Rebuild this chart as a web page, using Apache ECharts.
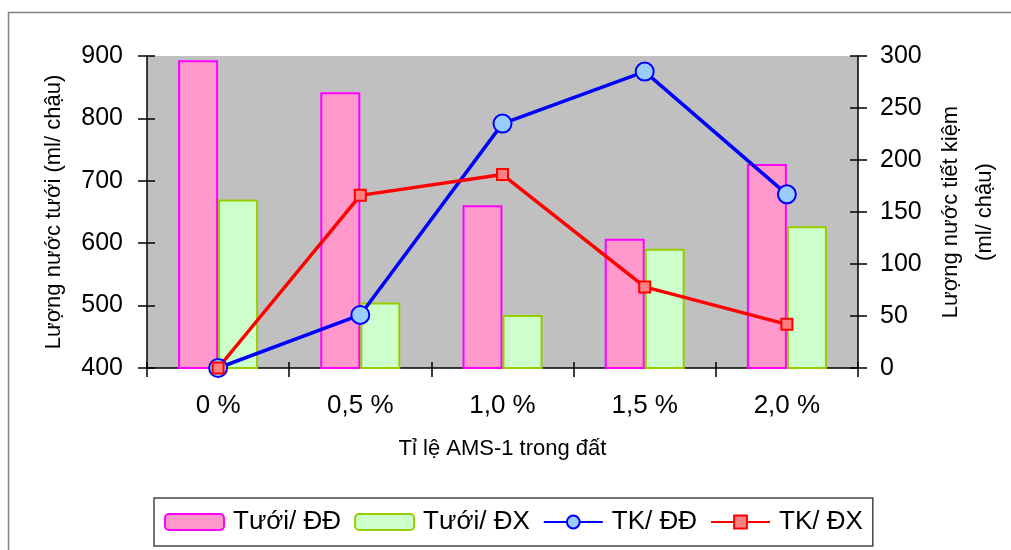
<!DOCTYPE html>
<html>
<head>
<meta charset="utf-8">
<script src="https://cdn.jsdelivr.net/npm/echarts@6/dist/echarts.min.js"></script>
<style>
html,body{margin:0;padding:0;background:#fff;overflow:hidden;width:1011px;height:550px;}
#chart{width:1011px;height:550px;}
</style>
</head>
<body>
<div id="chart"></div>
<script>
var categories = ['0 %', '0,5 %', '1,0 %', '1,5 %', '2,0 %'];
var tuoiDD = [893, 842, 661, 607, 727];
var tuoiDX = [670, 505, 485, 591, 627];
var tkDD = [0, 51, 235, 285, 167];
var tkDX = [0, 166, 186, 78, 42];
var leftTicks = {min: 400, max: 900, interval: 100};
var rightTicks = {min: 0, max: 300, interval: 50};

var FONT = 'Liberation Sans';
var chart = echarts.init(document.getElementById('chart'), null, {renderer: 'canvas', width: 1011, height: 550});
var gridBox = {left: 147, right: 153, top: 56, bottom: 182, containLabel: false, outerBoundsMode: 'none'};

var option = {
  animation: false,
  textStyle: {fontFamily: FONT, color: '#000'},
  graphic: [{
    type: 'rect', shape: {x: 8.5, y: 12.5, width: 1100, height: 700},
    style: {fill: 'none', stroke: '#808080', lineWidth: 1.5}, z: -10
  }],
  grid: [
    Object.assign({show: true, backgroundColor: '#C0C0C0', borderWidth: 0}, gridBox),
    Object.assign({show: false}, gridBox)
  ],
  legend: {
    left: 154, top: 498,
    padding: [11, 10, 11, 10],
    borderColor: '#444', borderWidth: 1.5,
    itemWidth: 59, itemHeight: 16, itemGap: 13,
    textStyle: {fontFamily: FONT, fontSize: 26, color: '#000', padding: [0, 0, 0, 4]},
    data: ['Tưới/ ĐĐ', 'Tưới/ ĐX', 'TK/ ĐĐ', 'TK/ ĐX']
  },
  xAxis: [{
    type: 'category', data: categories, gridIndex: 0,
    axisLine: {lineStyle: {color: '#000', width: 1.5}},
    axisTick: {show: true, inside: false, length: 9, lineStyle: {color: '#000', width: 1.5}},
    axisLabel: {fontFamily: FONT, fontSize: 26, color: '#000', margin: 25},
    name: 'Tỉ lệ AMS-1 trong đất', nameLocation: 'middle', nameGap: 70,
    nameTextStyle: {fontFamily: FONT, fontSize: 22, color: '#000'}
  }, {
    type: 'category', data: categories, gridIndex: 1,
    axisLine: {show: false},
    axisTick: {show: true, inside: true, length: 6, lineStyle: {color: '#000', width: 1.5}},
    axisLabel: {show: false}
  }],
  yAxis: [{
    type: 'value', gridIndex: 0, position: 'left',
    min: leftTicks.min, max: leftTicks.max, interval: leftTicks.interval,
    splitLine: {show: false},
    axisLine: {show: true, lineStyle: {color: '#000', width: 1.5}},
    axisTick: {show: true, length: 9, lineStyle: {color: '#000', width: 1.5}},
    axisLabel: {fontFamily: FONT, fontSize: 25, color: '#000', margin: 24},
    name: 'Lượng nước tưới (ml/ chậu)', nameLocation: 'middle', nameGap: 82,
    nameTextStyle: {fontFamily: FONT, fontSize: 22, color: '#000'}
  }, {
    type: 'value', gridIndex: 0, position: 'right',
    min: rightTicks.min, max: rightTicks.max, interval: rightTicks.interval,
    splitLine: {show: false},
    axisLine: {show: true, lineStyle: {color: '#000', width: 1.5}},
    axisTick: {show: true, length: 9, lineStyle: {color: '#000', width: 1.5}},
    axisLabel: {fontFamily: FONT, fontSize: 25, color: '#000', margin: 22},
    name: 'Lượng nước tiết kiệm\n(ml/ chậu)', nameLocation: 'middle', nameGap: 76,
    nameTextStyle: {fontFamily: FONT, fontSize: 22, color: '#000', lineHeight: 34}
  }, {
    type: 'value', gridIndex: 1, position: 'left',
    min: leftTicks.min, max: leftTicks.max, interval: leftTicks.interval,
    splitLine: {show: false}, axisLine: {show: false}, axisLabel: {show: false},
    axisTick: {show: true, inside: true, length: 8, lineStyle: {color: '#000', width: 1.5}}
  }, {
    type: 'value', gridIndex: 1, position: 'right',
    min: rightTicks.min, max: rightTicks.max, interval: rightTicks.interval,
    splitLine: {show: false}, axisLine: {show: false}, axisLabel: {show: false},
    axisTick: {show: true, inside: true, length: 8, lineStyle: {color: '#000', width: 1.5}}
  }],
  series: [{
    name: 'Tưới/ ĐĐ', type: 'bar', xAxisIndex: 0, yAxisIndex: 0,
    data: tuoiDD, barWidth: 40, barGap: '0%',
    itemStyle: {color: '#FF99CC', borderColor: '#FF00FF', borderWidth: 2}
  }, {
    name: 'Tưới/ ĐX', type: 'bar', xAxisIndex: 0, yAxisIndex: 0,
    data: tuoiDX, barWidth: 40, barGap: '0%',
    itemStyle: {color: '#CCFFCC', borderColor: '#99CC00', borderWidth: 2}
  }, {
    name: 'TK/ ĐĐ', type: 'line', xAxisIndex: 0, yAxisIndex: 1,
    data: tkDD, symbol: 'circle', symbolSize: 18,
    lineStyle: {color: '#0000FF', width: 3.5},
    itemStyle: {color: '#99CCFF', borderColor: '#0000FF', borderWidth: 2}
  }, {
    name: 'TK/ ĐX', type: 'line', xAxisIndex: 0, yAxisIndex: 1,
    data: tkDX, symbol: 'rect', symbolSize: 11,
    lineStyle: {color: '#FF0000', width: 3.5},
    itemStyle: {color: '#FF8080', borderColor: '#FF0000', borderWidth: 2}
  }]
};
chart.setOption(option);
</script>
</body>
</html>
